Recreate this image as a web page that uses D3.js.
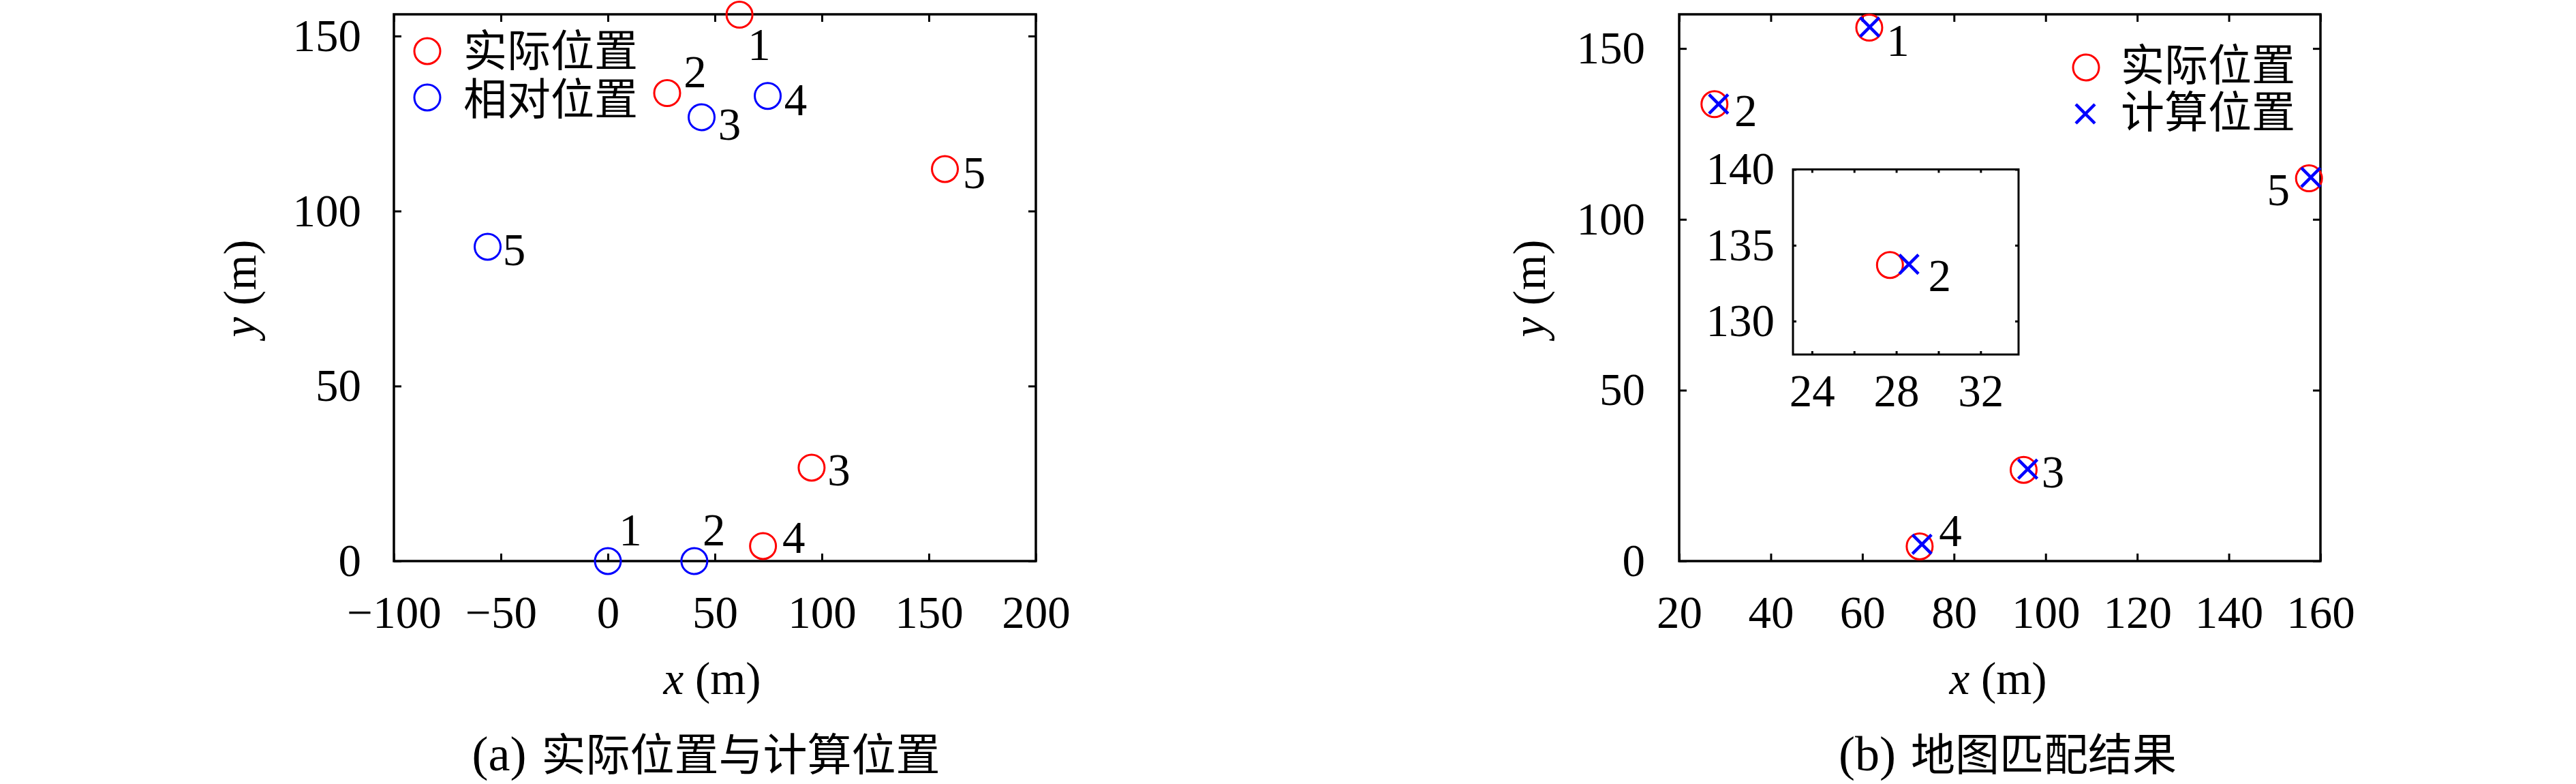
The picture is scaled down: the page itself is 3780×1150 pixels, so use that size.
<!DOCTYPE html>
<html>
<head>
<meta charset="utf-8">
<script src="https://cdn.jsdelivr.net/npm/d3@7"></script>
<style>
  html, body { margin: 0; padding: 0; background: #fff; }
  svg { display: block; }
  .num { font-family: "Liberation Serif", "DejaVu Serif", serif; font-size: 67px; fill: #000; }
  .cjk { font-family: "Liberation Serif", "Noto Sans CJK SC", sans-serif; fill: #000; }
</style>
</head>
<body>
<svg id="chart" width="3780" height="1150"></svg>
<script>
// ---------------- data ----------------
const pointIds = ["1", "2", "3", "4", "5"];
// actual positions (m)
const realX = [61.5, 27.7, 95.2, 72.5, 157.5];
const realY = [156.1, 133.7, 26.7, 4.3, 112.0];
// relative positions (m)
const relX = [0, 40.4, 43.8, 74.7, -56.2];
const relY = [0, 0, 126.8, 132.9, 89.8];
// computed positions (m)
const calcX = [61.6, 28.6, 96.1, 73.0, 157.9];
const calcY = [156.3, 133.75, 26.9, 4.9, 112.3];

const ticksAX = [-100, -50, 0, 50, 100, 150, 200];
const ticksAY = [0, 50, 100, 150];
const ticksBX = [20, 40, 60, 80, 100, 120, 140, 160];
const ticksBY = [0, 50, 100, 150];
const ticksInsetX = [24, 26, 28, 30, 32];
const labelsInsetX = [24, 28, 32];
const ticksInsetY = [130, 135, 140];

const legendA = ["实际位置", "相对位置"];
const legendB = ["实际位置", "计算位置"];
const captionTagA = "(a)", captionA = "实际位置与计算位置";
const captionTagB = "(b)", captionB = "地图匹配结果";

// label placement (pixel offsets from marker centre) – layout only
const offRealA = [[29, 43], [41, -32], [40, 3], [45, -13], [43, 5]];
const offRelA  = [[33, -46], [29, -46], [41, 10], [41, 5], [39, 4]];
const offB     = [[42, 18], [46, 9], [43, 3], [45, -23], [-45, 16]];
const offInset = [73, 15];

// ---------------- drawing ----------------
const svg = d3.select("#chart");
const RED = "#ff0000", BLUE = "#0000ff";
const R = 19;

function frame(g, x, y, xt, yt, opts) {
  const [x0, x1] = x.range(), [y0, y1] = y.range();
  const tl = opts.tick;
  const fmt = d3.format("");
  const bx = d3.axisBottom(x).tickValues(xt).tickSize(-tl).tickSizeOuter(0).tickPadding(opts.padX)
    .tickFormat(d => (opts.xLabels ? (opts.xLabels.includes(d) ? fmt(d) : "") : fmt(d)));
  const gb = g.append("g").attr("transform", `translate(0,${y0})`).call(bx);
  const tx = d3.axisTop(x).tickValues(xt).tickSize(-tl).tickSizeOuter(0).tickFormat("");
  const gt = g.append("g").attr("transform", `translate(0,${y1})`).call(tx);
  const ly = d3.axisLeft(y).tickValues(yt).tickSize(-tl).tickSizeOuter(0).tickPadding(opts.padY).tickFormat(fmt);
  const gl = g.append("g").attr("transform", `translate(${x0},0)`).call(ly);
  const ry = d3.axisRight(y).tickValues(yt).tickSize(-tl).tickSizeOuter(0).tickFormat("");
  const gr = g.append("g").attr("transform", `translate(${x1},0)`).call(ry);
  [gb, gt, gl, gr].forEach(a => {
    a.select(".domain").remove();
    a.selectAll(".tick line").attr("stroke", "#000").attr("stroke-width", opts.tw);
    a.selectAll(".tick text").attr("class", "num").attr("font-family", null).attr("font-size", null);
    a.attr("font-family", null).attr("font-size", null);
  });
  g.append("rect").attr("x", x0).attr("y", y1).attr("width", x1 - x0).attr("height", y0 - y1)
    .attr("fill", "none").attr("stroke", "#000").attr("stroke-width", opts.sw);
}

function circles(g, x, y, xs, ys, color) {
  g.selectAll(null).data(xs.map((d, i) => [d, ys[i]])).join("circle")
    .attr("cx", d => x(d[0])).attr("cy", d => y(d[1])).attr("r", R)
    .attr("fill", "none").attr("stroke", color).attr("stroke-width", 3);
}
function crosses(g, x, y, xs, ys, color) {
  const s = 14;
  g.selectAll(null).data(xs.map((d, i) => [d, ys[i]])).join("path")
    .attr("d", d => {
      const cx = x(d[0]), cy = y(d[1]);
      return `M${cx - s},${cy - s}L${cx + s},${cy + s}M${cx - s},${cy + s}L${cx + s},${cy - s}`;
    })
    .attr("fill", "none").attr("stroke", color).attr("stroke-width", 4.5);
}
function labels(g, x, y, xs, ys, ids, offs) {
  g.selectAll(null).data(ids).join("text").attr("class", "num")
    .attr("x", (d, i) => x(xs[i]) + offs[i][0])
    .attr("y", (d, i) => y(ys[i]) + offs[i][1] + 23)
    .attr("text-anchor", "middle").text(d => d);
}
function axisTitle(g, letter, xpos, ypos, rotate) {
  const t = g.append("text").attr("class", "num").attr("text-anchor", "middle");
  if (rotate) t.attr("transform", `translate(${xpos},${ypos}) rotate(-90)`);
  else t.attr("x", xpos).attr("y", ypos);
  t.append("tspan").attr("font-style", "italic").text(letter);
  t.append("tspan").text(" (m)");
}
function caption(g, tag, txt, cx) {
  const t = g.append("text").attr("class", "cjk").attr("x", cx).attr("y", 1130).attr("text-anchor", "middle");
  t.append("tspan").attr("font-family", "Liberation Serif, serif").attr("font-size", 72).text(tag);
  t.append("tspan").attr("dx", 22).attr("font-size", 65).text(txt);
}

// ---- panel (a) ----
const xA = d3.scaleLinear().domain([-100, 200]).range([578, 1520]);
const yA = d3.scaleLinear().domain([0, 156.2]).range([823, 21]);
const gA = svg.append("g");
frame(gA, xA, yA, ticksAX, ticksAY, { tick: 11, padX: 50, padY: 48, tw: 3, sw: 3.5 });
circles(gA, xA, yA, realX, realY, RED);
circles(gA, xA, yA, relX, relY, BLUE);
labels(gA, xA, yA, realX, realY, pointIds, offRealA);
labels(gA, xA, yA, relX, relY, pointIds, offRelA);
axisTitle(gA, "x", 1045, 1018, false);
axisTitle(gA, "y", 375, 423, true);
[RED, BLUE].forEach((c, i) => {
  gA.append("circle").attr("cx", 627).attr("cy", 75 + i * 68).attr("r", R)
    .attr("fill", "none").attr("stroke", c).attr("stroke-width", 3);
  gA.append("text").attr("class", "cjk").attr("font-size", 64)
    .attr("x", 680).attr("y", 97 + i * 71).text(legendA[i]);
});
caption(gA, captionTagA, captionA, 1036);

// ---- panel (b) ----
const xB = d3.scaleLinear().domain([20, 160]).range([2464, 3405]);
const yB = d3.scaleLinear().domain([0, 160]).range([823, 21]);
const gB = svg.append("g");
frame(gB, xB, yB, ticksBX, ticksBY, { tick: 11, padX: 50, padY: 50, tw: 3, sw: 3.5 });
circles(gB, xB, yB, realX, realY, RED);
crosses(gB, xB, yB, calcX, calcY, BLUE);
labels(gB, xB, yB, realX, realY, pointIds, offB);
axisTitle(gB, "x", 2932, 1018, false);
axisTitle(gB, "y", 2267, 423, true);
gB.append("circle").attr("cx", 3061).attr("cy", 99).attr("r", R)
  .attr("fill", "none").attr("stroke", RED).attr("stroke-width", 3);
crosses(gB, d3.scaleIdentity(), d3.scaleIdentity(), [3060], [167], BLUE);
legendB.forEach((t, i) => {
  gB.append("text").attr("class", "cjk").attr("font-size", 64)
    .attr("x", 3112).attr("y", 118 + i * 69).text(t);
});
caption(gB, captionTagB, captionB, 2946);

// ---- inset ----
const xI = d3.scaleLinear().domain([23.1, 33.8]).range([2631, 2962]);
const yI = d3.scaleLinear().domain([127.8, 140]).range([520, 248.5]);
const gI = svg.append("g");
gI.append("rect").attr("x", 2631).attr("y", 248.5).attr("width", 331).attr("height", 271.5).attr("fill", "#fff");
frame(gI, xI, yI, ticksInsetX, ticksInsetY, { tick: 5, padX: 28, padY: 27, tw: 3, sw: 3, xLabels: labelsInsetX });
circles(gI, xI, yI, [realX[1]], [realY[1]], RED);
crosses(gI, xI, yI, [calcX[1]], [calcY[1]], BLUE);
labels(gI, xI, yI, [realX[1]], [realY[1]], [pointIds[1]], [offInset]);
</script>
</body>
</html>
